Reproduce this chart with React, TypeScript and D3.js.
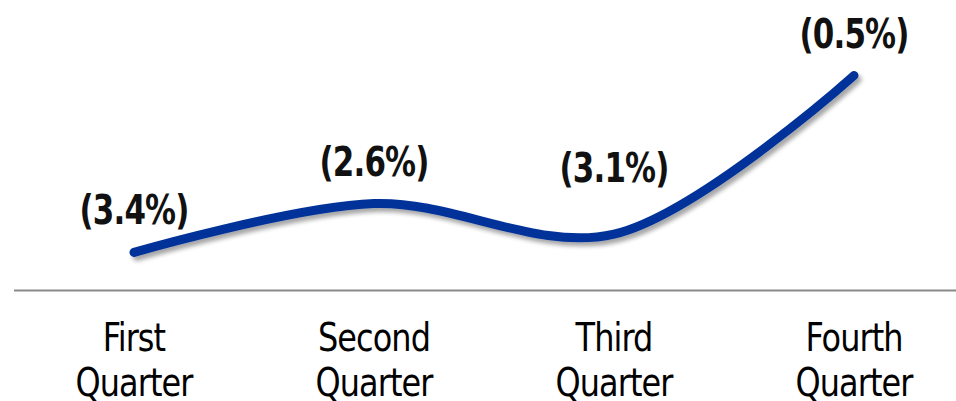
import React, { useEffect, useRef } from "react";
import * as d3 from "d3";

const quarters = ["First Quarter", "Second Quarter", "Third Quarter", "Fourth Quarter"];
const changes = [-3.4, -2.6, -3.1, -0.5];
const labels = ["(3.4%)", "(2.6%)", "(3.1%)", "(0.5%)"];

const App: React.FC = () => {
  const svgRef = useRef<SVGSVGElement>(null);

  useEffect(() => {
    if (!svgRef.current) return;
    const width = 956;
    const font = "'DejaVu Sans Condensed', 'DejaVu Sans', sans-serif";

    const svg = d3.select(svgRef.current);
    svg.selectAll("*").remove();

    // drop shadow under the line
    const defs = svg.append("defs");
    defs
      .append("filter")
      .attr("id", "shadow")
      .attr("x", "-10%")
      .attr("y", "-30%")
      .attr("width", "120%")
      .attr("height", "160%")
      .append("feDropShadow")
      .attr("dx", 3)
      .attr("dy", 4)
      .attr("stdDeviation", 2)
      .attr("flood-color", "#000")
      .attr("flood-opacity", 0.35);

    const x = d3.scalePoint<string>().domain(quarters).range([134, 854]);
    const y = d3.scaleLinear().domain([-4, 0]).range([289, 45]);

    // baseline axis
    svg
      .append("line")
      .attr("x1", 14)
      .attr("x2", width)
      .attr("y1", 290.5)
      .attr("y2", 290.5)
      .attr("stroke", "#8a8a8a")
      .attr("stroke-width", 2);

    const line = d3
      .line<number>()
      .x((_, i) => x(quarters[i])!)
      .y((d) => y(d))
      .curve(d3.curveCatmullRom.alpha(0.5));

    svg
      .append("path")
      .datum(changes)
      .attr("d", line)
      .attr("fill", "none")
      .attr("stroke", "#003399")
      .attr("stroke-width", 9)
      .attr("stroke-linecap", "round")
      .attr("filter", "url(#shadow)");

    // value labels (squeezed horizontally to mimic a narrow face)
    svg
      .append("g")
      .selectAll("text")
      .data(changes)
      .join("text")
      .attr(
        "transform",
        (d, i) => `translate(${x(quarters[i])},${y(d) - (i === 2 ? 52 : 28)}) scale(0.86,1)`
      )
      .attr("text-anchor", "middle")
      .style("font-family", font)
      .style("font-stretch", "condensed")
      .style("font-weight", "bold")
      .style("font-size", "40px")
      .style("letter-spacing", "-1px")
      .attr("fill", "#111")
      .text((_, i) => labels[i]);

    // category labels
    const cats = svg
      .append("g")
      .selectAll("text")
      .data(quarters)
      .join("text")
      .attr("transform", (d) => `translate(${x(d)},351) scale(0.91,1)`)
      .attr("text-anchor", "middle")
      .style("font-family", font)
      .style("font-stretch", "condensed")
      .style("font-size", "39px")
      .style("letter-spacing", "-1px")
      .attr("fill", "#000");
    cats.each(function (d) {
      const words = d.split(" ");
      d3.select(this)
        .selectAll("tspan")
        .data(words)
        .join("tspan")
        .attr("x", 0)
        .attr("dy", (_, i) => (i === 0 ? 0 : 45))
        .text((w) => w);
    });
  }, []);

  return (
    <svg
      ref={svgRef}
      width={956}
      height={401}
      style={{ position: "absolute", left: 0, top: 0, background: "#fff" }}
    />
  );
};

export default App;
